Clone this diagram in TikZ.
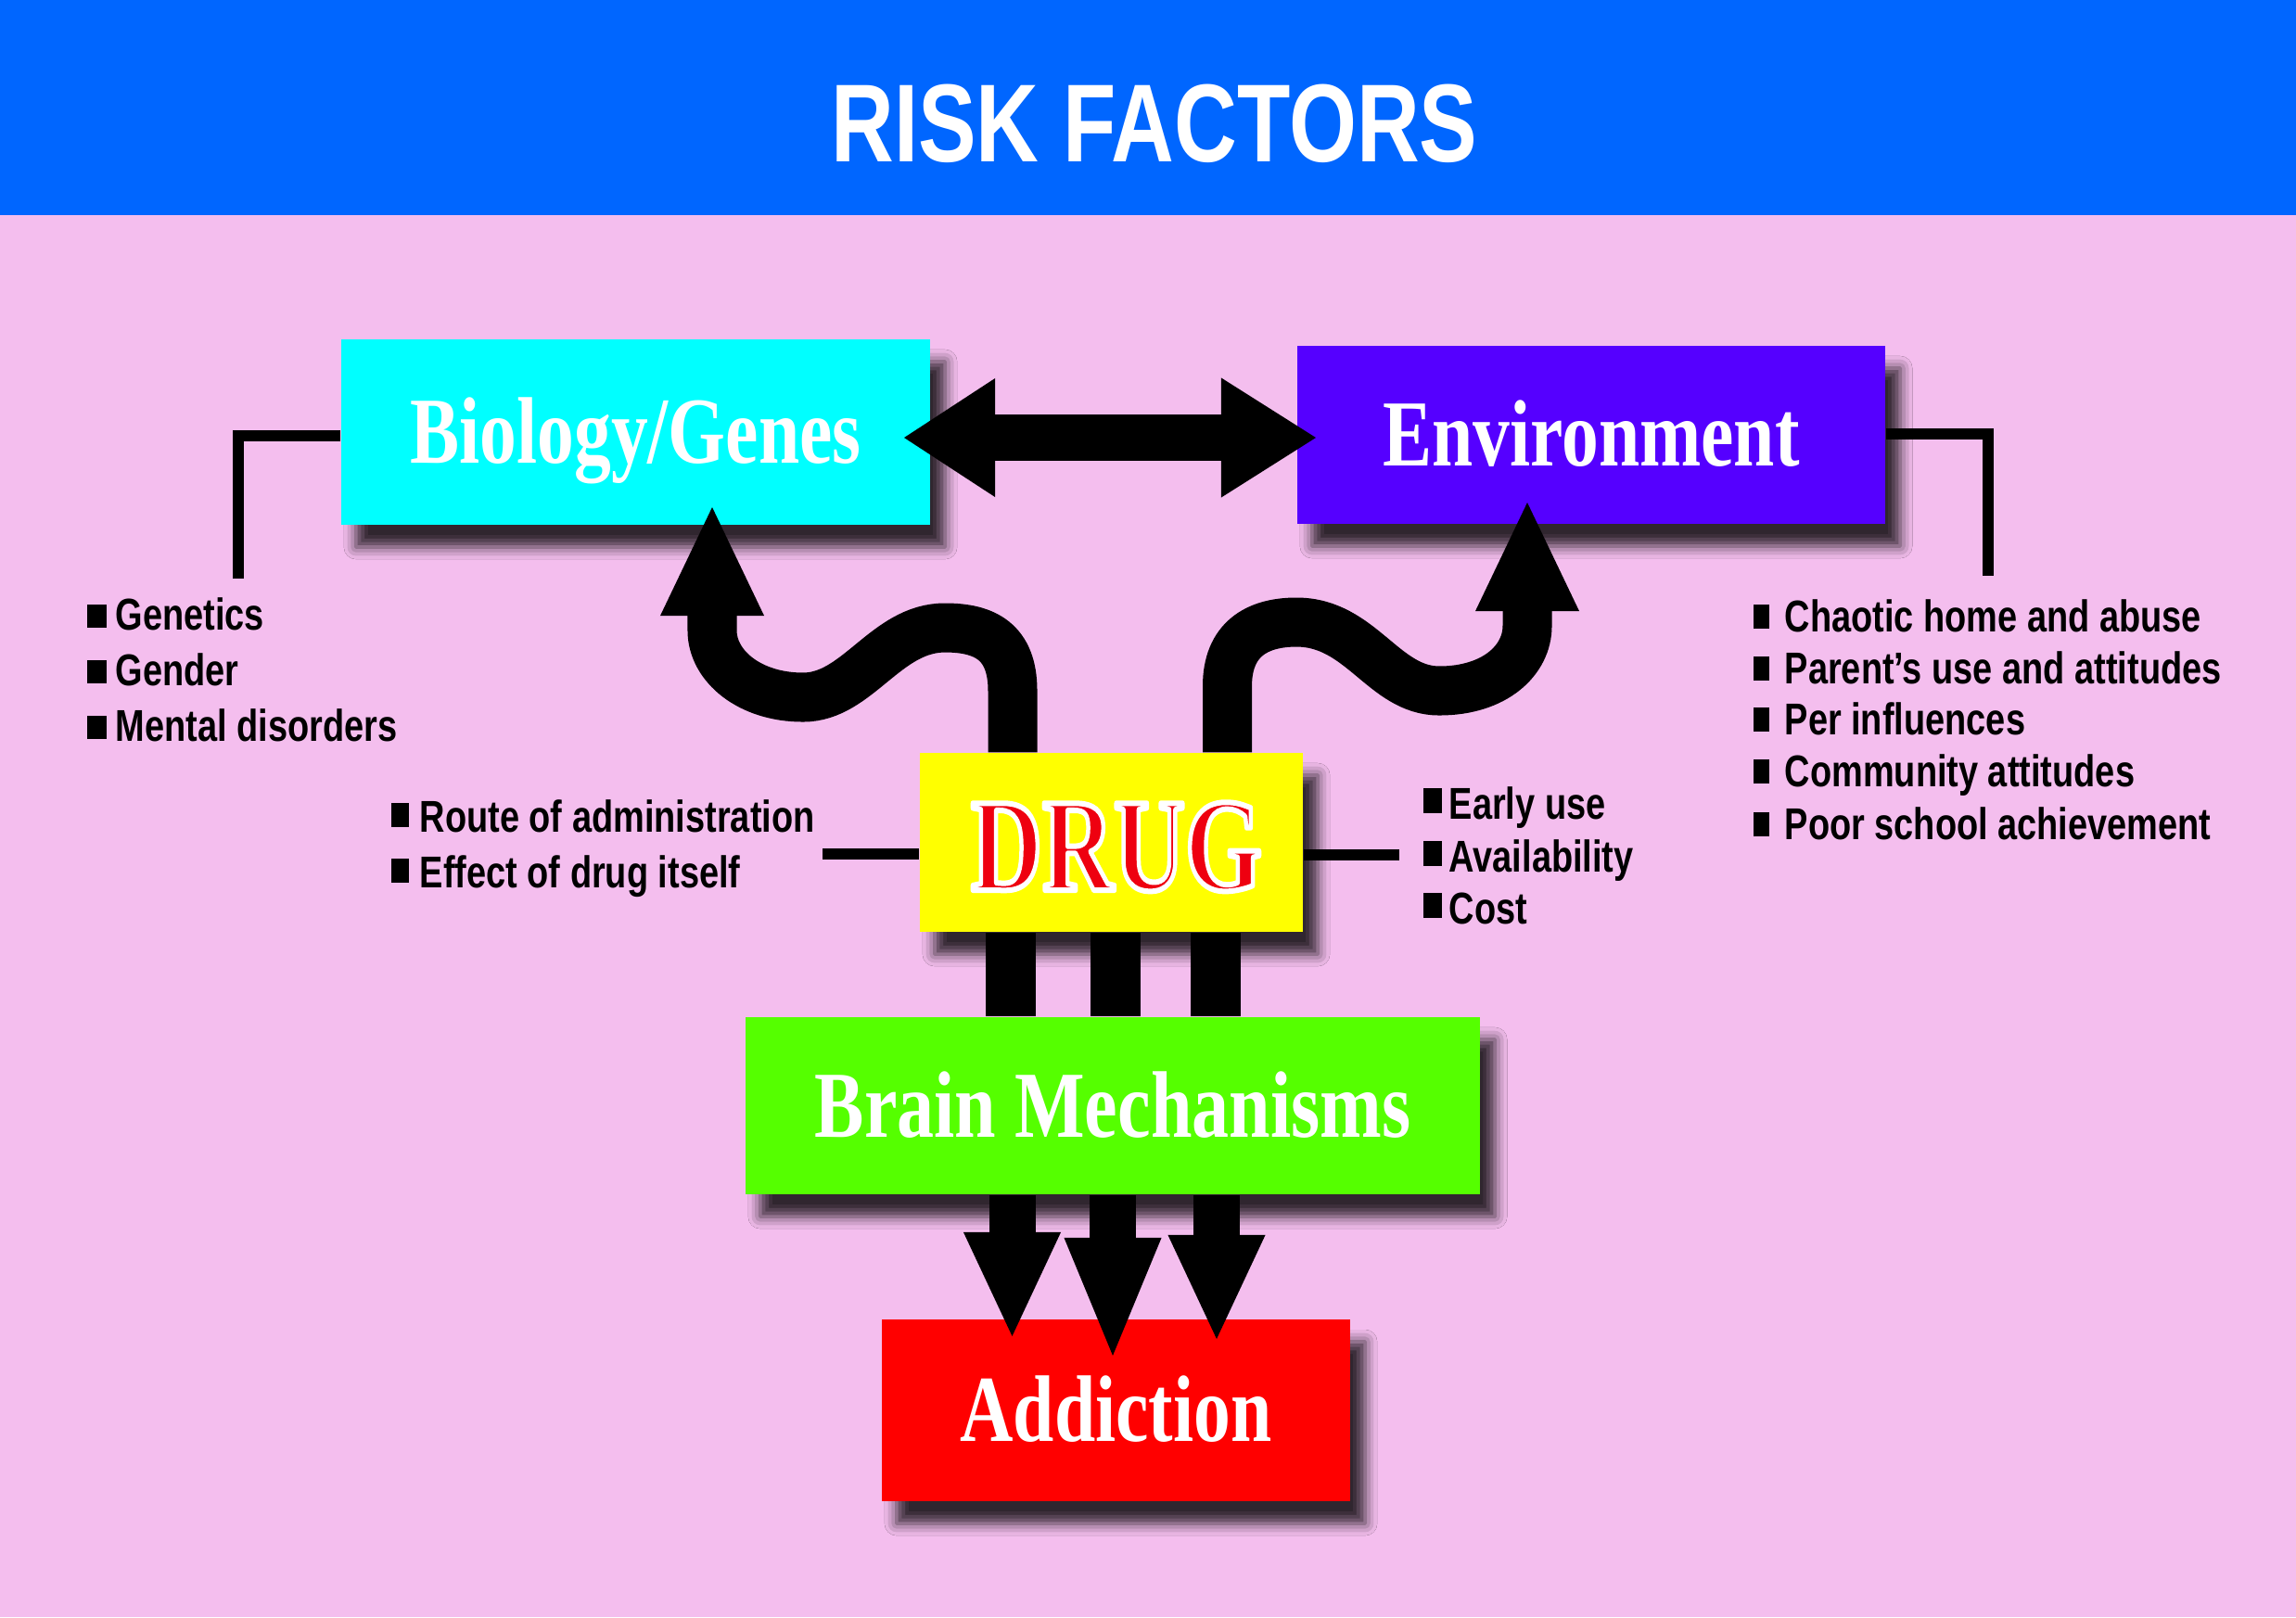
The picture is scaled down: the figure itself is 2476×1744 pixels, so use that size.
\documentclass[tikz,border=0pt]{standalone}
\usepackage{fontspec}
\setmainfont{Liberation Serif}
\newfontfamily\sansb{Liberation Sans}
\usetikzlibrary{arrows.meta,calc,shadows.blur}
\definecolor{bgpink}{HTML}{F4BEEE}
\definecolor{titleblue}{HTML}{0066FF}
\definecolor{biocol}{HTML}{00FFFF}
\definecolor{envcol}{HTML}{5500FF}
\definecolor{drugcol}{HTML}{FFFF00}
\definecolor{braincol}{HTML}{55FF00}
\definecolor{addcol}{HTML}{FF0000}
\definecolor{drugred}{HTML}{EE0010}
\newcommand\sqz[2]{\scalebox{#1}[1]{#2}}
\newcommand\bitem[5]{\rule[#3]{#1}{#2}\hspace{#4}\sqz{0.79}{#5}}
\newcommand\outlined[1]{\textcolor{drugred}{\special{pdf:literal direct 2 Tr 1 1 1 RG 1.7 w 1 j}#1\special{pdf:literal direct 0 Tr}}}
\tikzset{
  box/.style={rectangle, inner sep=0pt, text=white,
    font=\bfseries\fontsize{29pt}{34pt}\selectfont,
    text height=0.67cm, text depth=0pt,
    blur shadow={shadow xshift=0.16cm, shadow yshift=-0.24cm,
      shadow blur radius=0.13cm, shadow opacity=80}},
  bul/.style={anchor=base west, inner sep=0pt, text=black,
    font=\sansb\bfseries\fontsize{13.66pt}{16pt}\selectfont},
  conn/.style={line width=0.12cm, line join=miter, black},
  wave/.style={line width=0.53cm, black,
    -{Triangle[length=1.17cm, width=1.12cm, line width=0pt]}},
  bar/.style={line width=0.54cm, black},
  down/.style={line width=0.5cm, black,
    -{Triangle[length=1.12cm, width=1.05cm, line width=0pt]}},
}
\begin{document}
\begin{tikzpicture}[x=0.01cm, y=-0.01cm]
\useasboundingbox (0,0) rectangle (2476,1744);
\fill[bgpink] (0,0) rectangle (2476,1744);
\fill[titleblue] (0,0) rectangle (2476,232);
\node[anchor=base, inner sep=0pt, text=white,
  font=\sansb\bfseries\fontsize{34pt}{40pt}\selectfont] (title) at (1245,174) {\sqz{0.785}{RISK FACTORS}};

% boxes
\node[box, fill=biocol, minimum width=6.35cm, minimum height=2cm] (bio) at (685.5,466) {\sqz{0.78}{Biology/Genes}\hspace{0.22cm}};
\node[box, fill=envcol, minimum width=6.34cm, minimum height=1.92cm] (env) at (1716,469) {\sqz{0.78}{Environment}\hspace{0.08cm}};
\node[box, fill=drugcol, minimum width=4.13cm, minimum height=1.93cm] (drug) at (1198.5,908.5) {};
\node[box, fill=braincol, minimum width=7.92cm, minimum height=1.91cm] (brain) at (1200,1192.5) {\sqz{0.785}{Brain Mechanisms}};
\node[box, fill=addcol, minimum width=5.05cm, minimum height=1.96cm] (add) at (1203.5,1521) {\sqz{0.78}{Addiction}\hspace{0.06cm}};
\node[anchor=base, inner sep=0pt, font=\bfseries\fontsize{40.7pt}{46pt}\selectfont] (drugtxt) at (1204,960) {\sqz{0.745}{\outlined{DRUG}}};

% bullet lists
\node[bul] (l1) at (93,679) {\bitem{0.21cm}{0.25cm}{0.02cm}{0.10cm}{Genetics}};
\node[bul] (l2) at (93,739) {\bitem{0.21cm}{0.25cm}{0.02cm}{0.10cm}{Gender}};
\node[bul] (l3) at (93,799) {\bitem{0.21cm}{0.25cm}{0.02cm}{0.10cm}{Mental disorders}};

\node[bul] (r1) at (421,897) {\bitem{0.19cm}{0.26cm}{0.05cm}{0.12cm}{Route of administration}};
\node[bul] (r2) at (421,957) {\bitem{0.19cm}{0.26cm}{0.05cm}{0.12cm}{Effect of drug itself}};

\node[bul] (d1) at (1534,883) {\bitem{0.2cm}{0.27cm}{0.06cm}{0.08cm}{Early use}};
\node[bul] (d2) at (1534,940) {\bitem{0.2cm}{0.27cm}{0.06cm}{0.08cm}{Availability}};
\node[bul] (d3) at (1534,996) {\bitem{0.2cm}{0.27cm}{0.06cm}{0.08cm}{Cost}};

\node[bul] (e1) at (1890,681) {\bitem{0.17cm}{0.26cm}{0.03cm}{0.17cm}{Chaotic home and abuse}};
\node[bul] (e2) at (1890,737) {\bitem{0.17cm}{0.26cm}{0.03cm}{0.17cm}{Parent’s use and attitudes}};
\node[bul] (e3) at (1890,792) {\bitem{0.17cm}{0.26cm}{0.03cm}{0.17cm}{Per influences}};
\node[bul] (e4) at (1890,848) {\bitem{0.17cm}{0.26cm}{0.03cm}{0.17cm}{Community attitudes}};
\node[bul] (e5) at (1890,905) {\bitem{0.17cm}{0.26cm}{0.03cm}{0.17cm}{Poor school achievement}};

% connector lines
\coordinate (bioend) at (257,624);
\coordinate (envend) at (2144,621);
\coordinate (routeend) at (887,921);
\coordinate (availend) at (1509,922);
\draw[conn] (bio.west |- 0,470) -- (257,470) -- (bioend);
\draw[conn] (env.east |- 0,468) -- (2144,468) -- (envend);
\draw[conn] (routeend) -- (drug.west |- routeend);
\draw[conn] (drug.east |- availend) -- (availend);

% double arrow
\coordinate (dl) at (975,472);
\coordinate (dr) at (1419,472);
\draw[line width=0.5cm, black,
  {Triangle[length=0.98cm, width=1.28cm, line width=0pt]}-{Triangle[length=1.02cm, width=1.29cm, line width=0pt]}] (dl) -- (dr);

% wavy arrows
\coordinate (lwtip) at (768,547);
\coordinate (rwtip) at (1647,542);
\draw[wave] (1092,0 |- drug.north) -- (1092,745)
  .. controls (1092,692) and (1062,677) .. (1019,677)
  .. controls (955,677) and (925,752) .. (866,752)
  .. controls (808,752) and (768,718) .. (768,680) -- (lwtip);
\draw[wave] (1323.5,0 |- drug.north) -- (1323.5,740)
  .. controls (1323.5,690) and (1355,671) .. (1398,671)
  .. controls (1468,671) and (1492,745) .. (1552,745)
  .. controls (1612,745) and (1647,712) .. (1647,675) -- (rwtip);

% drug to brain bars
\draw[bar] (1090,0 |- drug.south) -- (1090,0 |- brain.north);
\draw[bar] (1203,0 |- drug.south) -- (1203,0 |- brain.north);
\draw[bar] (1310.5,0 |- drug.south) -- (1310.5,0 |- brain.north);

% brain to addiction arrows
\coordinate (a1) at (1091.5,1441);
\coordinate (a2) at (1200,1462);
\coordinate (a3) at (1312,1444);
\draw[down] (1091.5,0 |- brain.south) -- (a1);
\draw[line width=0.5cm, black, -{Triangle[length=1.27cm, width=1.05cm, line width=0pt]}] (1200,0 |- brain.south) -- (a2);
\draw[down] (1312,0 |- brain.south) -- (a3);
\end{tikzpicture}
\end{document}
